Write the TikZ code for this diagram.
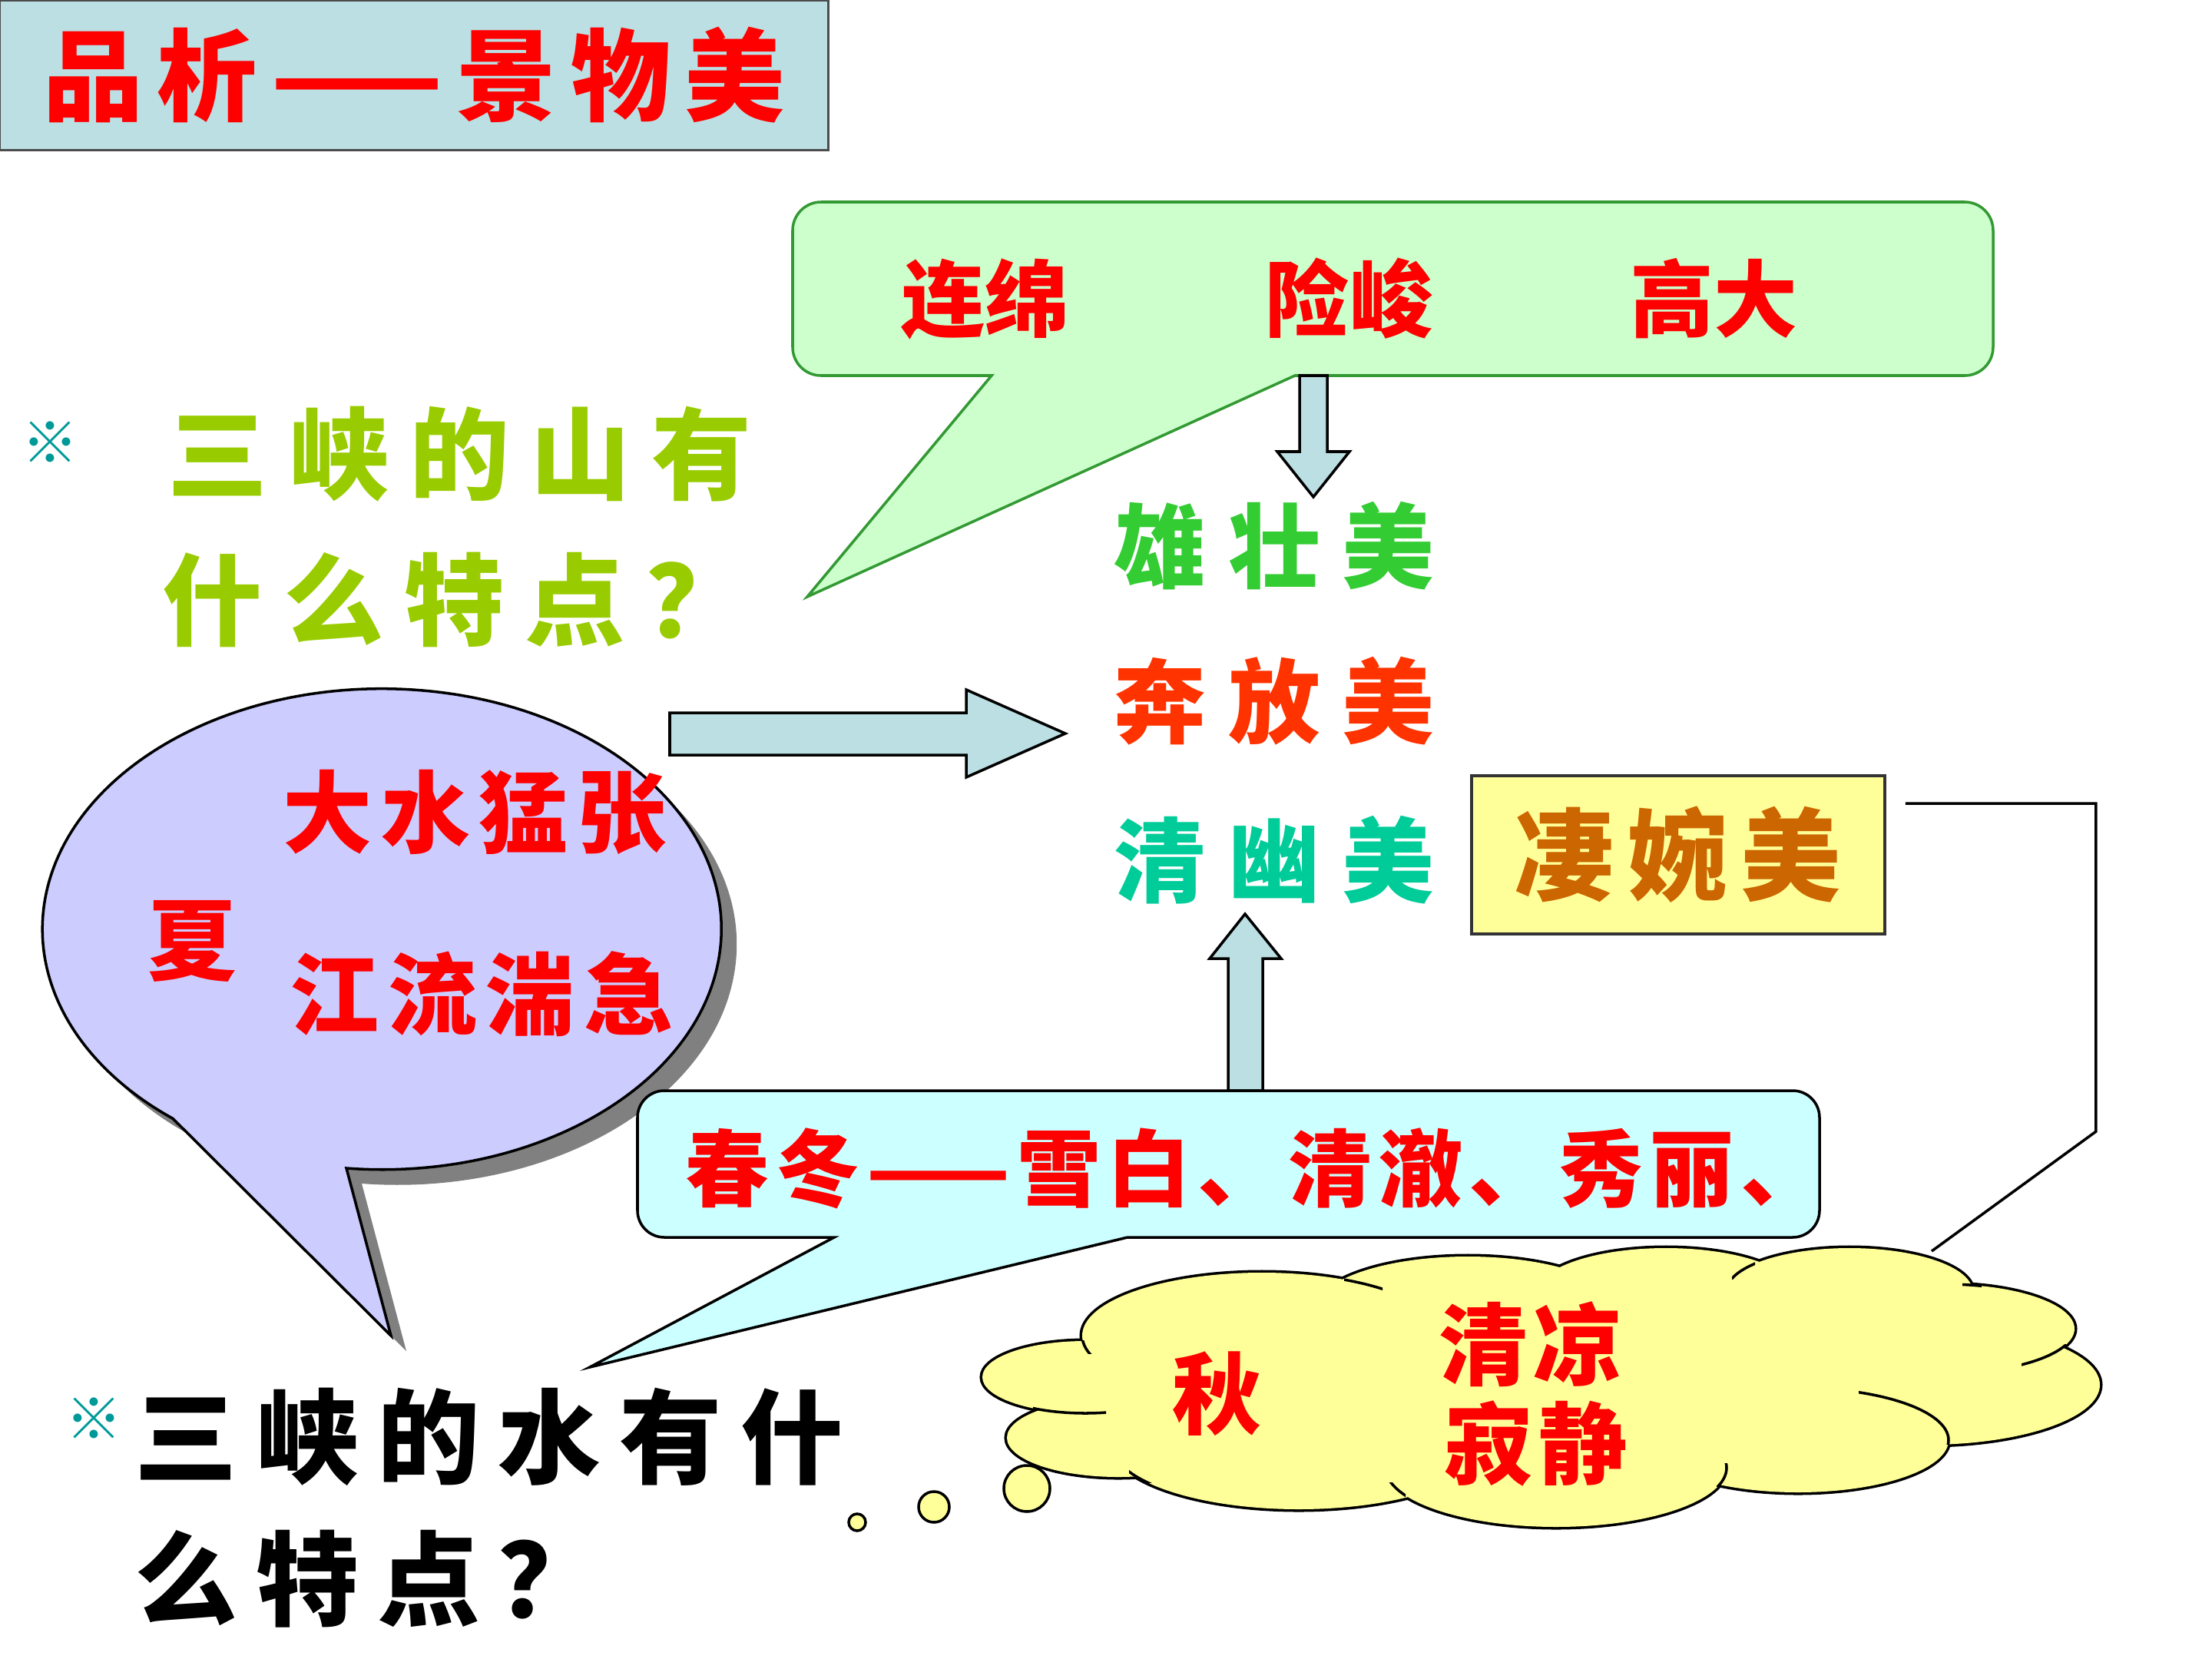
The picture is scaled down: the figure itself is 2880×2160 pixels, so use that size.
\documentclass[tikz,border=0pt]{standalone}
\usepackage{fontspec}
\newfontfamily\cjk{Noto Sans CJK SC}
\usepackage{tikz}
\usepackage{xcolor}
\definecolor{SlideRed}{HTML}{FF0000}
\definecolor{TitleFill}{HTML}{BBDFE2}
\definecolor{ArrowFill}{HTML}{BBDFE2}
\definecolor{MountFill}{HTML}{CCFFCC}
\definecolor{MountLine}{HTML}{339933}
\definecolor{SummerFill}{HTML}{CCCCFF}
\definecolor{WinterFill}{HTML}{CCFFFF}
\definecolor{AutumnFill}{HTML}{FFFF99}
\definecolor{AskGreen}{HTML}{99CC00}
\definecolor{MarkTeal}{HTML}{009999}
\definecolor{GrandGreen}{HTML}{33CC33}
\definecolor{WildOrange}{HTML}{FF3300}
\definecolor{QuietTeal}{HTML}{00CC99}
\definecolor{SadBrown}{HTML}{CC6600}
\definecolor{ShadowGrey}{HTML}{808080}
\newcommand{\cjksize}[2]{\cjk\bfseries\fontsize{#1}{#1}\selectfont\addfontfeature{LetterSpace=#2}}

\begin{document}
\begin{tikzpicture}[x=0.01cm,y=-0.01cm,line width=1pt,
  every node/.style={inner sep=0pt},
  heading/.style={draw=black!70,fill=TitleFill,minimum width=10.78cm,minimum height=1.95cm,
    text=SlideRed,font=\cjksize{37pt}{14}},
  bubbleword/.style={text=SlideRed,font=\cjksize{31pt}{0}},
  summerword/.style={text=SlideRed,font=\cjksize{33pt}{10}},
  beauty/.style={font=\cjksize{34pt}{24}},
  ask/.style={anchor=west,font=\cjksize{37pt}{21}},
  refmark/.style={text=MarkTeal,font=\cjksize{21pt}{0}},
  blockarrow/.style={draw=black,fill=ArrowFill},
  mountbubble/.style={draw=MountLine,fill=MountFill},
  summerbubble/.style={draw=black,fill=SummerFill},
  winterbubble/.style={draw=black,fill=WinterFill},
  thought/.style={draw=black,fill=AutumnFill},
  sadbox/.style={draw=black!80,fill=AutumnFill,minimum width=5.38cm,minimum height=2.06cm,
    text=SadBrown,font=\cjksize{37pt}{13}},
  linkline/.style={draw=black}]
  \useasboundingbox (0,0) rectangle (2880,2160);

  % title
  \node[heading] (title) at (539,98) {品析——景物美};

  % mountains
  \draw[mountbubble] (1291,489) -- (1051,777) -- (1686,489) [rounded corners=0.37cm]
    -- (2595,489) -- (2595,263) -- (1032,263) -- (1032,489) [sharp corners] -- cycle;
  \node[bubbleword] (mountwords) at (1757,389) {连绵\hspace{2.35em}险峻\hspace{2.35em}高大};
  \draw[blockarrow] (1692,489) -- (1728,489) -- (1728,588) -- (1757,588) -- (1710,647)
    -- (1663,588) -- (1692,588) -- cycle;

  \node[refmark] (mark1) at (65,576) {※};
  \node[ask,text=AskGreen] (askmount1) at (217,591) {三峡的山有};
  \node[ask,text=AskGreen] (askmount2) at (210,781) {什么特点？};

  % three kinds of beauty
  \node[beauty,text=GrandGreen] (grand) at (1659,711) {雄壮美};
  \node[beauty,text=WildOrange] (wild) at (1659,913) {奔放美};
  \node[beauty,text=QuietTeal] (quiet) at (1659,1120) {清幽美};
  \draw[blockarrow] (872,928) -- (1258,928) -- (1258,898) -- (1387,955) -- (1258,1012)
    -- (1258,983) -- (872,983) -- cycle;

  % summer
  \fill[ShadowGrey,shift={(20,20)}] (451,1521)
    arc[start angle=96,end angle=-232,x radius=442,y radius=313] -- (509,1739) -- cycle;
  \draw[summerbubble] (451,1521)
    arc[start angle=96,end angle=-232,x radius=442,y radius=313] -- (509,1739) -- cycle;
  \node[summerword] (flood) at (618,1058) {大水猛张};
  \node[summerword] (rapid) at (627,1294) {江流湍急};
  \node[summerword] (summer) at (251,1225) {夏};

  % spring and winter
  \draw[blockarrow] (1599,1420) -- (1599,1248) -- (1575,1248) -- (1621,1190) -- (1668,1248)
    -- (1644,1248) -- (1644,1420) -- cycle;
  \draw[winterbubble] (1086,1611) -- (768,1780) -- (1468,1611) [rounded corners=0.35cm]
    -- (2369,1611) -- (2369,1420) -- (830,1420) -- (830,1611) [sharp corners] -- cycle;
  \node[bubbleword,font=\cjksize{31pt}{8}] (winterwords) at (1634,1521) {春冬——雪白、清澈、秀丽、};

  % autumn: cloud made of puffs
  \foreach \cx/\cy/\rx/\ry in {1413/1793/134/47, 1456/1872/145/51, 1643/1739/234/82,
      1911/1705/198/69, 2169/1683/168/58, 2408/1681/160/56, 2533/1730/168/58,
      2509/1803/225/78, 2341/1875/196/68, 2026/1911/222/77, 1691/1880/244/85}
    \draw[line width=2pt] (\cx,\cy) ellipse[x radius=\rx,y radius=\ry];
  \foreach \cx/\cy/\rx/\ry in {1413/1793/134/47, 1456/1872/145/51, 1643/1739/234/82,
      1911/1705/198/69, 2169/1683/168/58, 2408/1681/160/56, 2533/1730/168/58,
      2509/1803/225/78, 2341/1875/196/68, 2026/1911/222/77, 1691/1880/244/85}
    \fill[AutumnFill] (\cx,\cy) ellipse[x radius=\rx,y radius=\ry];
  \fill[AutumnFill] (1413,1793) -- (1643,1739) -- (1911,1705) -- (2169,1683) -- (2408,1681)
    -- (2533,1730) -- (2509,1803) -- (2341,1875) -- (2026,1911) -- (1691,1880)
    -- (1456,1872) -- cycle;
  % inner puff edges
  \foreach \cx/\cy/\rx/\ry/\xa/\ya/\xb/\yb in {1413/1793/134/47/1345/1825/1440/1860,
      1643/1739/234/82/1405/1745/1425/1762, 1691/1880/244/85/1470/1905/1520/1930,
      1643/1739/234/82/1750/1655/1800/1690, 2408/1681/160/56/2255/1635/2285/1665,
      2533/1730/168/58/2555/1665/2580/1685, 2533/1730/168/58/2632/1750/2690/1782,
      2341/1875/196/68/2420/1810/2545/1880, 2026/1911/222/77/2235/1905/2260/1935,
      2026/1911/222/77/1808/1930/1830/1955}
    {\begin{scope}
      \clip (\xa,\ya) rectangle (\xb,\yb);
      \draw (\cx,\cy) ellipse[x radius=\rx,y radius=\ry];
    \end{scope}}
  \draw[thought] (1337,1938) circle[radius=30];
  \draw[thought] (1216,1962) circle[radius=20];
  \draw[thought] (1116,1982) circle[radius=11];
  \node[bubbleword,font=\cjksize{33pt}{0}] (autumn) at (1585,1815) {秋};
  \node[bubbleword,font=\cjksize{33pt}{6}] (cool) at (1993,1750) {清凉};
  \node[bubbleword,font=\cjksize{33pt}{6}] (still) at (2000,1879) {寂静};

  \node[sadbox] (qiwan) at (2185,1113) {凄婉美};
  \coordinate (cloudtip) at (2515,1629);
  \draw[linkline] ([shift={(25,38)}]qiwan.north east) -- ++(248,0) -- ++(0,427) -- (cloudtip);

  % water question
  \node[refmark] (mark2) at (122,1847) {※};
  \node[ask,text=black,font=\cjksize{38pt}{18}] (askwater1) at (174,1871) {三峡的水有什};
  \node[ask,text=black,font=\cjksize{38pt}{18}] (askwater2) at (174,2056) {么特点？};
\end{tikzpicture}
\end{document}
